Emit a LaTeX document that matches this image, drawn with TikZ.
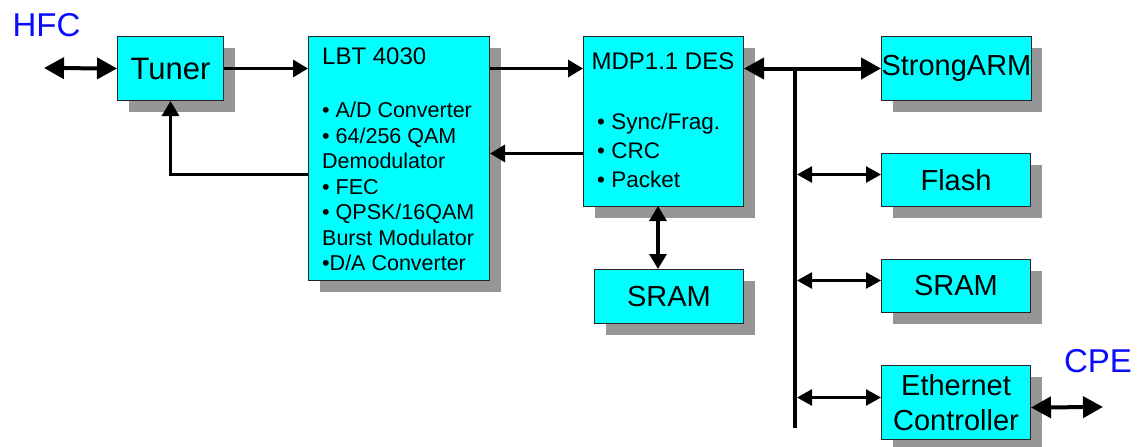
\documentclass[tikz,border=0pt]{standalone}
\usepackage{fontspec}
\setmainfont{Liberation Sans}
\usetikzlibrary{arrows.meta,shadows,calc}
\definecolor{boxcyan}{RGB}{0,255,255}
\definecolor{shgray}{RGB}{150,150,150}
\definecolor{lblue}{RGB}{10,10,255}
\tikzset{
  box/.style={draw=black!85, line width=1pt, fill=boxcyan, inner sep=0pt, anchor=north west,
    drop shadow={shadow xshift=11pt, shadow yshift=-11pt, fill=shgray, opacity=1}},
  arr/.style={line width=3.2pt, -{Triangle[length=15pt,width=17pt]}},
  darr/.style={line width=3.2pt, {Triangle[length=15pt,width=17pt]}-{Triangle[length=15pt,width=17pt]}},
  tharr/.style={line width=2.5pt, {Triangle[length=15pt,width=16pt]}-{Triangle[length=15pt,width=16pt]}},
  bigarr/.style={line width=4pt, {Triangle[length=20pt,width=21pt]}-{Triangle[length=20pt,width=21pt]}},
  bigtxt/.style={font=\fontsize{29}{35}\selectfont},
  lbl/.style={text=lblue, font=\fontsize{33}{38}\selectfont, inner sep=0pt},
}
\begin{document}
\begin{tikzpicture}[x=1pt,y=-1pt]
\useasboundingbox (0,0) rectangle (1138,447);
% boxes
\node[box, minimum width=106, minimum height=64, font=\fontsize{31}{36}\selectfont] (tuner) at (117,36) {Tuner};
\node[box, minimum width=181, minimum height=244] (lbt) at (308,36) {};
\node[box, minimum width=160, minimum height=170] (mdp) at (583,36) {};
\node[box, bigtxt, minimum width=149, minimum height=54] (sram1) at (594,269) {SRAM};
\node[box, bigtxt, minimum width=149, minimum height=64] (sarm) at (881,36) {StrongARM};
\node[box, bigtxt, minimum width=149, minimum height=53] (flash) at (881,153) {Flash};
\node[box, bigtxt, minimum width=149, minimum height=53] (sram2) at (881,259) {SRAM};
\node[box, bigtxt, minimum width=149, minimum height=74, align=center] (eth) at (881,365) {Ethernet\\Controller};
% box texts
\node[anchor=north west, inner sep=0pt, align=left, font=\fontsize{21.5}{25.5}\selectfont] (lbtt) at (322,48)
  {{\fontsize{24}{25.5}\selectfont LBT 4030}\\[27.5pt]• A/D Converter\\• 64/256 QAM\\Demodulator\\• FEC\\• QPSK/16QAM\\Burst Modulator\\•D/A Converter};
\node[anchor=north, inner sep=0pt, font=\fontsize{24}{29}\selectfont] (mdpt) at (663,53) {MDP1.1 DES};
\node[anchor=north west, inner sep=0pt, align=left, font=\fontsize{22.5}{29}\selectfont] (mdpb) at (597,113)
  {• Sync/Frag.\\• CRC\\• Packet};
% labels
\node[lbl] (hfc) at (46.5,25) {HFC};
\node[lbl] (cpe) at (1098,361.5) {CPE};
% coordinates
\coordinate (hfcend) at (44,68);
\coordinate (cpeend) at (1103,407);
\coordinate (bustop) at (795,68);
\coordinate (busbot) at (795,428);
\coordinate (bx) at (797,0);
\coordinate (m1) at ([yshift=-32pt]mdp.west);
\coordinate (l1) at ([yshift=-16pt]lbt.west);
\coordinate (f1) at ([yshift=5.5pt]flash.west);
\coordinate (s1) at ([yshift=5.5pt]sram2.west);
\coordinate (e1) at ([yshift=5pt]eth.west);
\coordinate (e2) at ([yshift=-5pt]eth.east);
\coordinate (ms) at (658,206);
\coordinate (ss) at (658,269);
% connectors
\draw[bigarr] (hfcend) -- (tuner.west);
\draw[arr] (tuner.east) -- (tuner.east -| lbt.west);
\draw[arr] (lbt.east |- tuner.east) -- (tuner.east -| mdp.west);
\draw[arr] (m1) -- (m1 -| lbt.east);
\draw[arr] (l1) -| (tuner.south);
\draw[darr] (ms) -- (ss);
\draw[line width=4.3pt] (bustop) -- (busbot);
\draw[bigarr] (mdp.east |- sarm.west) -- (sarm.west);
\draw[tharr] (f1 -| bx) -- (f1);
\draw[tharr] (s1 -| bx) -- (s1);
\draw[tharr] (e1 -| bx) -- (e1);
\draw[bigarr] (e2) -- (cpeend);
\end{tikzpicture}
\end{document}
